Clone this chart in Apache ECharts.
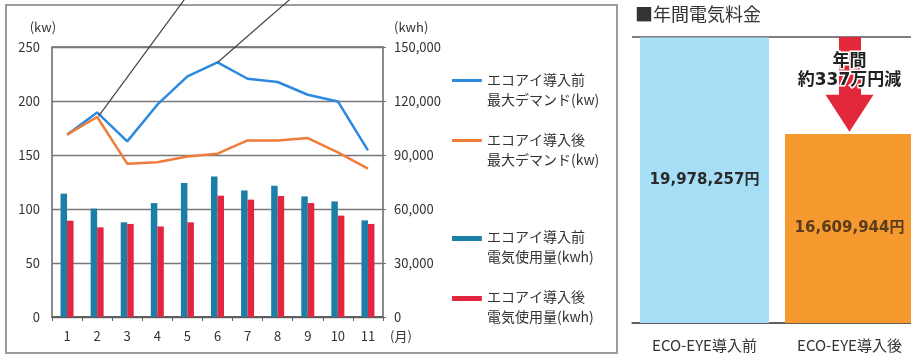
<!DOCTYPE html>
<html><head><meta charset="utf-8">
<script src="https://cdn.jsdelivr.net/npm/echarts@6/dist/echarts.min.js"></script>
<style>html,body{margin:0;padding:0;background:#fff}#c{width:911px;height:356px}</style>
</head><body><div id="c"></div>
<script>
// ---- data ----
const months = ['1','2','3','4','5','6','7','8','9','10','11'];
const demandBefore = [168.8, 189.4, 162.6, 196.6, 222.8, 235.7, 220.6, 217.6, 205.8, 199.6, 154.3];
const demandAfter  = [168.8, 185.2, 142.0, 143.2, 148.7, 151.2, 163.5, 163.5, 165.7, 152.4, 137.3];
const usageBefore  = [68500, 60200, 52600, 63300, 74400, 78100, 70300, 72900, 67000, 64200, 53700];
const usageAfter   = [53500, 49800, 51700, 50300, 52600, 67400, 65200, 67200, 63300, 56300, 51700];
const kwTicks  = [0, 50, 100, 150, 200, 250];
const kwhTicks = [0, 30000, 60000, 90000, 120000, 150000];
const callout1 = [[1.05, 186], [3.9, 294]];
const callout2 = [[5, 235.7], [7.4, 294]];
const seriesNames = ['エコアイ導入前\n最大デマンド(kw)', 'エコアイ導入後\n最大デマンド(kw)', 'エコアイ導入前\n電気使用量(kwh)', 'エコアイ導入後\n電気使用量(kwh)'];
const costTitle = '■年間電気料金';
const costCategories = ['ECO-EYE導入前', 'ECO-EYE導入後'];
const annualCost = [19978257, 16609944];
const costAxisRange = [10000000, 20000000];
const savingArrow = [20000000, 17330000];
const savingTextPos = 18800000;
const savingText = ['年間', '約337万円減'];

// ---- styles ----
const JP = '"Noto Sans CJK JP", sans-serif';
const NUM = '"DejaVu Sans", "Noto Sans CJK JP", sans-serif';
const cBlueLine = '#2b89e0', cOrangeLine = '#ef7d3a', cTeal = '#1b7ea6', cRed = '#e3263f';
const costColors = ['#a6dff5', '#f6992f'];
const costLabelColors = ['#2a2a2a', '#5a3c1c'];
const lineIcon = 'path://M0,0H30V3H0Z M0,22H0.1V22.1H0Z';
const barIcon = 'path://M0,0H30V5H0Z M0,22H0.1V22.1H0Z';

const chart = echarts.init(document.getElementById('c'), null, {renderer: 'canvas'});
const legendCommon = {
  orient: 'vertical', left: 452, padding: 0, itemWidth: 30, itemHeight: 22, itemGap: 20,
  selectedMode: false, itemStyle: {borderWidth: 0},
  textStyle: {fontSize: 14, lineHeight: 20, color: '#333', fontFamily: JP}
};
chart.setOption({
  animation: false,
  textStyle: {fontFamily: JP},
  title: {text: costTitle, left: 635, top: 5, padding: 0,
    textStyle: {fontSize: 18, fontWeight: 'normal', color: '#333', fontFamily: JP}},
  graphic: [{type: 'rect', silent: true, z: -1,
    shape: {x: 6, y: 5, width: 611, height: 348},
    style: {fill: 'none', stroke: '#9c9c9c', lineWidth: 2}}],
  legend: [
    Object.assign({}, legendCommon, {top: 70, data: [
      {name: seriesNames[0], icon: lineIcon}, {name: seriesNames[1], icon: lineIcon}]}),
    Object.assign({}, legendCommon, {top: 227, data: [
      {name: seriesNames[2], icon: barIcon}, {name: seriesNames[3], icon: barIcon}]})
  ],
  grid: [
    {left: 52, top: 47, width: 331, height: 270, show: true, borderColor: '#666', borderWidth: 1.5,
      backgroundColor: 'transparent', outerBoundsMode: 'none', containLabel: false},
    {left: 632, top: 37, width: 290, height: 286, outerBoundsMode: 'none', containLabel: false}
  ],
  xAxis: [
    {type: 'category', gridIndex: 0, data: months, boundaryGap: true,
      axisLine: {lineStyle: {color: '#555', width: 1.5}},
      axisTick: {show: true, alignWithLabel: false, length: 4, lineStyle: {color: '#666'}},
      axisLabel: {color: '#333', fontSize: 13, margin: 13, fontFamily: JP},
      name: '(月)', nameLocation: 'end', nameGap: 7,
      nameTextStyle: {color: '#333', fontSize: 13, verticalAlign: 'top', padding: [13, 0, 0, 0], fontFamily: JP}},
    {type: 'category', gridIndex: 1, data: costCategories,
      axisLine: {lineStyle: {color: '#555', width: 1.5}},
      axisTick: {show: false},
      axisLabel: {color: '#333', fontSize: 15, margin: 15, fontFamily: JP}},
    {type: 'value', gridIndex: 0, min: -0.5, max: 10.5, show: false}
  ],
  yAxis: [
    {type: 'value', gridIndex: 0, min: kwTicks[0], max: kwTicks[kwTicks.length - 1], interval: kwTicks[1] - kwTicks[0],
      axisLine: {show: false}, axisTick: {show: false},
      axisLabel: {color: '#333', fontSize: 13, margin: 12, fontFamily: JP},
      splitLine: {lineStyle: {color: '#777', width: 1.3}},
      name: '(kw)', nameLocation: 'end', nameGap: 13,
      nameTextStyle: {color: '#333', fontSize: 13, align: 'right', padding: [0, 11, 0, 0], fontFamily: JP}},
    {type: 'value', gridIndex: 0, position: 'right', min: kwhTicks[0], max: kwhTicks[kwhTicks.length - 1], interval: kwhTicks[1] - kwhTicks[0],
      axisLine: {show: false}, axisTick: {show: true, length: 3, lineStyle: {color: '#777'}},
      axisLabel: {color: '#333', fontSize: 13, margin: 11, fontFamily: JP,
        formatter: v => v.toLocaleString('en-US')},
      splitLine: {show: false},
      name: '(kwh)', nameLocation: 'end', nameGap: 13,
      nameTextStyle: {color: '#333', fontSize: 13, align: 'left', padding: [0, 0, 0, 11], fontFamily: JP}},
    {type: 'value', gridIndex: 1, min: costAxisRange[0], max: costAxisRange[1], interval: costAxisRange[1] - costAxisRange[0],
      axisLine: {show: false}, axisTick: {show: false}, axisLabel: {show: false},
      splitLine: {show: true, lineStyle: {color: '#555', width: 1.5}}}
  ],
  series: [
    {name: seriesNames[2], type: 'bar', xAxisIndex: 0, yAxisIndex: 1, data: usageBefore,
      barWidth: 6.5, barGap: '0%', itemStyle: {color: cTeal}, z: 2},
    {name: seriesNames[3], type: 'bar', xAxisIndex: 0, yAxisIndex: 1, data: usageAfter,
      barWidth: 6.5, barGap: '0%', itemStyle: {color: cRed}, z: 2},
    {name: seriesNames[0], type: 'line', xAxisIndex: 0, yAxisIndex: 0, data: demandBefore,
      showSymbol: false, symbol: 'none', lineStyle: {color: cBlueLine, width: 2.5}, itemStyle: {color: cBlueLine}, z: 3},
    {name: seriesNames[1], type: 'line', xAxisIndex: 0, yAxisIndex: 0, data: demandAfter,
      showSymbol: false, symbol: 'none', lineStyle: {color: cOrangeLine, width: 2.5}, itemStyle: {color: cOrangeLine}, z: 3},
    {name: 'callout1', type: 'line', xAxisIndex: 2, yAxisIndex: 0, data: callout1, clip: false, silent: true,
      symbol: 'none', lineStyle: {color: '#444', width: 1.2}, z: 4},
    {name: 'callout2', type: 'line', xAxisIndex: 2, yAxisIndex: 0, data: callout2, clip: false, silent: true,
      symbol: 'none', lineStyle: {color: '#444', width: 1.2}, z: 4},
    {name: 'cost', type: 'bar', xAxisIndex: 1, yAxisIndex: 2, barWidth: 129,
      data: annualCost.map((v, i) => ({value: v, itemStyle: {color: costColors[i]}, label: {color: costLabelColors[i]}})),
      label: {show: true, position: 'inside', fontSize: 15, fontWeight: 'bold', fontFamily: NUM,
        formatter: p => p.value.toLocaleString('en-US') + '円'},
      markLine: {silent: true, symbol: ['none', 'triangle'], z: 5,
        lineStyle: {color: '#e4283c', width: 22, type: 'solid'}, label: {show: false},
        emphasis: {disabled: true},
        data: [[{coord: [costCategories[1], savingArrow[0]]}, {coord: [costCategories[1], savingArrow[1]], symbolSize: [48, 37]}]]},
      markPoint: {silent: true, symbol: 'rect', symbolSize: 1, itemStyle: {color: 'transparent'}, z: 6,
        label: {show: true, position: 'inside', formatter: savingText.join('\n'), fontSize: 17, fontWeight: 'bold',
          lineHeight: 19, color: '#222', textBorderColor: '#fff', textBorderWidth: 3, fontFamily: NUM},
        data: [{coord: [costCategories[1], savingTextPos]}]}
    }
  ]
});
</script></body></html>
